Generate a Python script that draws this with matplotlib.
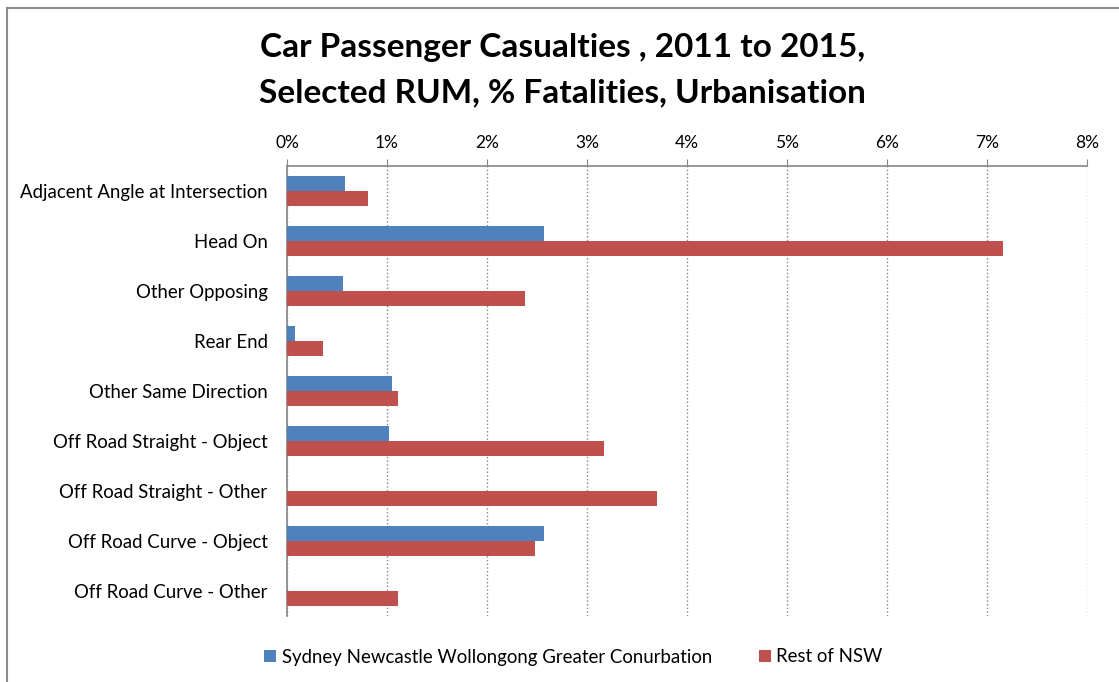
import matplotlib.pyplot as plt
import numpy as np
from matplotlib.lines import Line2D
from matplotlib.ticker import FuncFormatter

plt.rcParams['font.family'] = ['Lato', 'DejaVu Sans']

categories = [
    "Adjacent Angle at Intersection",
    "Head On",
    "Other Opposing",
    "Rear End",
    "Other Same Direction",
    "Off Road Straight - Object",
    "Off Road Straight - Other",
    "Off Road Curve - Object",
    "Off Road Curve - Other",
]
# % fatalities
sydney = [0.58, 2.57, 0.56, 0.08, 1.05, 1.02, 0.0, 2.57, 0.0]
rest_nsw = [0.81, 7.16, 2.38, 0.36, 1.11, 3.17, 3.70, 2.48, 1.11]
series_names = ["Sydney Newcastle Wollongong Greater Conurbation", "Rest of NSW"]
x_ticks = [0, 1, 2, 3, 4, 5, 6, 7, 8]

BLUE = "#4F81BD"
RED = "#C0504D"

fig = plt.figure(figsize=(11.19, 6.82), dpi=100)
ax = fig.add_axes([287 / 1119, 1 - 616 / 682, 800 / 1119, 450 / 682])

y = np.arange(len(categories))
h = 0.3
ax.barh(y - h / 2, sydney, height=h, color=BLUE, label=series_names[0], zorder=3)
ax.barh(y + h / 2, rest_nsw, height=h, color=RED, label=series_names[1], zorder=3)

ax.set_ylim(len(categories) - 0.5, -0.5)
ax.set_yticks(y)
ax.set_yticklabels(categories, fontsize=13.4)
ax.tick_params(axis='y', length=0, pad=14)

ax.set_xlim(0, 8)
ax.set_xticks(x_ticks)
ax.xaxis.set_major_formatter(FuncFormatter(lambda v, p: f"{v:.0f}%"))
ax.xaxis.tick_top()
ax.tick_params(axis='x', labelsize=12.5, length=5, color="#868686", pad=6)
ax.grid(axis='x', linestyle=':', color="#868686", linewidth=1, zorder=0)

for s in ["bottom", "right"]:
    ax.spines[s].set_visible(False)
for s in ["top", "left"]:
    ax.spines[s].set_color("#868686")
    ax.spines[s].set_linewidth(1.2)

fig.text(0.503, 1 - 48 / 682, "Car Passenger Casualties , 2011 to 2015,",
         ha='center', va='center', fontsize=24, fontweight='bold')
fig.text(0.503, 1 - 93 / 682, "Selected RUM, % Fatalities, Urbanisation",
         ha='center', va='center', fontsize=24, fontweight='bold')

fig.legend(loc='center', bbox_to_anchor=(0.5125, 1 - 657 / 682), ncol=2,
           frameon=False, fontsize=13.4, handlelength=0.65, handleheight=0.65,
           handletextpad=0.3, columnspacing=2.5)

# chart frame
fig.add_artist(Line2D([7 / 1119, 7 / 1119], [0, 1 - 8 / 682], color="#8c8c8c", lw=1.5))
fig.add_artist(Line2D([7 / 1119, 1], [1 - 8 / 682, 1 - 8 / 682], color="#8c8c8c", lw=1.5))

fig.savefig("out.png", dpi=100)
